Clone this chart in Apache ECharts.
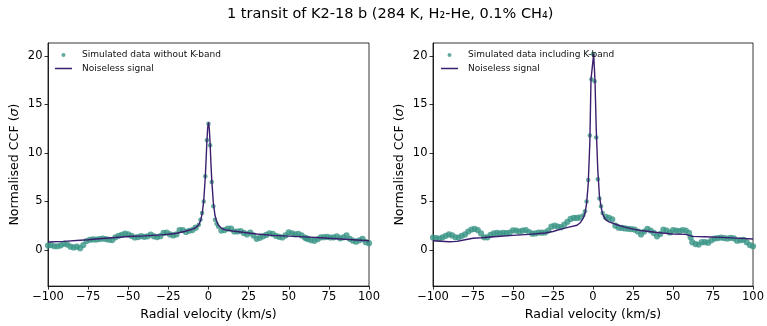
<!DOCTYPE html>
<html>
<head>
<meta charset="utf-8">
<script src="https://cdn.jsdelivr.net/npm/echarts@6/dist/echarts.min.js"></script>
<style>
html,body{margin:0;padding:0;background:#fff;}
#chart{width:767px;height:326px;}
</style>
</head>
<body>
<div id="chart"></div>
<script>
// ---- Data ----
const titleText = '1 transit of K2-18 b (284 K, H\u2082-He, 0.1% CH\u2084)';
const xTicks = [-100, -75, -50, -25, 0, 25, 50, 75, 100];
const yTicks = [0, 5, 10, 15, 20];

// velocities of the simulated data points (km/s)
const vData = [
  -100,-98,-96,-94,-92,-90,-88,-86,-84,-82,-80,-78,-76,-74,-72,-70,-68,-66,-64,-62,
  -60,-58,-56,-54,-52,-50,-48,-46,-44,-42,-40,-38,-36,-34,-32,-30,-28,-26,-24,-22,
  -20,-18,-16,-14,-12,-10,-8,
  -6,-5,-4,-3,-2,-1,0,1,2,3,4,5,6,
  8,10,12,14,16,18,20,22,24,26,28,30,32,34,36,38,40,42,44,46,48,50,52,54,56,58,60,61,62,
  64,66,68,70,72,74,76,78,80,82,84,86,88,90,92,94,96,98,100
];

// left panel: simulated data without K-band
const dataNoK = [
  0.45,0.5,0.38,0.38,0.48,0.65,0.55,0.34,0.26,0.34,0.18,0.5,0.92,1.05,1.08,1.07,1.12,1.17,1.12,1.05,
  1.02,1.3,1.45,1.55,1.68,1.6,1.45,1.28,1.33,1.42,1.35,1.4,1.58,1.4,1.33,1.42,1.75,1.8,1.6,1.5,
  1.6,2.05,2.05,1.85,1.98,2.05,2.3,
  2.6,3.1,3.8,5.0,7.6,11.3,13.0,10.8,7.0,4.5,3.1,2.7,2.4,
  2.0,2.05,2.2,2.2,1.9,1.9,1.95,1.75,1.6,1.8,1.5,1.15,1.25,1.4,1.55,1.72,1.65,1.45,1.35,1.28,1.5,1.82,1.7,1.6,1.65,1.5,1.27,1.2,1.12,
  1.0,0.94,1.1,1.3,1.32,1.34,1.28,1.3,1.4,1.2,1.3,1.5,1.15,0.95,0.85,1.0,1.15,0.8,0.7
];

// right panel: simulated data including K-band
const dataWithK = [
  1.27,1.22,1.17,1.3,1.45,1.6,1.5,1.3,1.28,1.45,1.6,1.9,2.1,2.17,2.05,1.7,1.3,1.3,1.55,1.7,
  1.75,1.72,1.75,1.73,1.8,2.02,2.0,1.88,2.0,2.05,1.85,1.68,1.7,1.8,1.78,1.8,2.0,2.4,2.5,2.4,
  2.35,2.6,2.9,3.2,3.3,3.3,3.35,
  3.6,4.0,5.0,7.2,11.8,17.6,20.2,17.4,11.6,7.3,5.3,4.5,3.8,
  3.4,3.3,3.15,2.5,2.3,2.27,2.22,2.18,2.15,2.1,1.9,1.6,1.9,2.17,2.0,1.75,1.4,1.65,2.1,2.0,1.8,2.05,2.0,1.95,2.05,2.0,1.75,1.3,0.8,
  0.6,0.55,0.8,0.8,0.75,1.0,1.17,1.22,1.27,1.22,1.17,1.25,1.2,0.95,1.0,1.05,0.8,0.5,0.38
];

// noiseless model signals
const vModelNoK = [-100,-90,-80,-75,-70,-60,-50,-40,-30,-25,-20,-15,-10,-8,-6,-5,-4,-3,-2,-1.5,-1,-0.5,0,0.5,1,1.5,2,3,4,5,6,8,10,15,20,25,30,40,50,60,70,75,80,90,100];
const modelNoK  = [0.82,0.88,1.0,1.05,1.12,1.25,1.38,1.45,1.55,1.62,1.72,1.9,2.15,2.3,2.6,3.0,3.7,5.0,7.5,9.3,11.2,12.6,13.15,12.5,11.0,9.0,7.3,4.9,3.6,3.0,2.6,2.25,2.1,1.95,1.85,1.75,1.65,1.5,1.42,1.35,1.25,1.2,1.15,1.05,0.95];

const vModelWithK = [-100,-90,-85,-80,-75,-70,-60,-50,-40,-30,-25,-20,-15,-10,-8,-6,-5,-4,-3,-2,-1.25,0.4,1.25,2,3,4,5,6,8,10,15,20,25,30,40,50,58,62,70,80,90,100];
const modelWithK  = [0.95,0.85,0.88,1.05,1.2,1.25,1.38,1.5,1.6,1.75,1.9,2.15,2.35,2.55,2.8,3.3,3.8,4.8,6.8,11.0,17.6,20.2,17.4,12.6,8.2,5.6,4.5,3.7,3.1,2.9,2.6,2.35,2.15,2.0,1.8,1.65,1.6,1.4,1.36,1.3,1.22,1.12];

const legendNoK = ['Simulated data without K-band', 'Noiseless signal'];
const legendWithK = ['Simulated data including K-band', 'Noiseless signal'];

// ---- Chart ----
const FONT = 'DejaVu Sans';
const scatterColor = '#3a9586';
const lineColor = '#3b1e6e';
const pairs = (xs, ys) => xs.map((x, i) => [x, ys[i]]);
const dotSize = v => (Math.abs(v[0]) < 7 ? 4.5 : 6.2);

function xAxisDef(gi) {
  return {
    gridIndex: gi, type: 'value', min: -100, max: 100, interval: 25,
    name: 'Radial velocity (km/s)', nameLocation: 'middle', nameGap: 17,
    nameTextStyle: {fontFamily: FONT, fontSize: 12.6, color: '#000'},
    axisLine: {show: true, onZero: false, lineStyle: {color: '#000', width: 0.8}},
    axisTick: {show: true, inside: false, length: 3.5, lineStyle: {color: '#000', width: 0.8}},
    axisLabel: {margin: 5, fontFamily: FONT, fontSize: 11.5, color: '#000',
      formatter: v => String(v).replace('-', '\u2212')},
    splitLine: {show: false}
  };
}
function yAxisDef(gi) {
  return {
    gridIndex: gi, type: 'value', min: -3.73, max: 21.34,
    name: 'Normalised CCF ({i|σ})', nameLocation: 'middle', nameGap: 27, nameRotate: 90,
    nameTextStyle: {fontFamily: FONT, fontSize: 12.6, color: '#000',
      rich: {i: {fontFamily: FONT, fontSize: 12.6, fontStyle: 'italic', color: '#000'}}},
    axisLine: {show: true, onZero: false, lineStyle: {color: '#000', width: 0.8}},
    axisTick: {show: true, inside: false, length: 3.5, customValues: yTicks, lineStyle: {color: '#000', width: 0.8}},
    axisLabel: {margin: 5.5, fontFamily: FONT, fontSize: 11.5, color: '#000', customValues: yTicks},
    splitLine: {show: false}
  };
}
function legendDef(left, names) {
  return {
    orient: 'vertical', left: left, top: 49.5, padding: 0, itemGap: 2.5,
    itemWidth: 17, itemHeight: 4,
    textStyle: {fontFamily: FONT, fontSize: 9, color: '#111', lineHeight: 11, padding: [0, 0, 0, 5]},
    data: [
      {name: names[0], icon: 'circle'},
      {name: names[1], icon: 'path://M0,0L34,0L34,3L0,3Z'}
    ]
  };
}

const option = {
  animation: false,
  backgroundColor: '#fff',
  title: {
    text: titleText, left: 227, top: 7, padding: 0,
    textStyle: {fontFamily: FONT, fontSize: 14.5, fontWeight: 'normal', color: '#000'}
  },
  legend: [legendDef(55, legendNoK), legendDef(441, legendWithK)],
  grid: [
    {left: 48, top: 43, width: 321, height: 251, show: true, borderColor: '#000', borderWidth: 0.8, containLabel: false},
    {left: 433, top: 43, width: 321, height: 251, show: true, borderColor: '#000', borderWidth: 0.8, containLabel: false}
  ],
  xAxis: [xAxisDef(0), xAxisDef(1)],
  yAxis: [yAxisDef(0), yAxisDef(1)],
  series: [
    {name: legendNoK[0], type: 'scatter', xAxisIndex: 0, yAxisIndex: 0,
      data: pairs(vData, dataNoK), symbolSize: dotSize, itemStyle: {color: scatterColor}, z: 2},
    {name: legendNoK[1], type: 'line', xAxisIndex: 0, yAxisIndex: 0,
      data: pairs(vModelNoK, modelNoK), symbol: 'none', showSymbol: false, smooth: false,
      lineStyle: {color: lineColor, width: 1.4}, itemStyle: {color: lineColor}, z: 3},
    {name: legendWithK[0], type: 'scatter', xAxisIndex: 1, yAxisIndex: 1,
      data: pairs(vData, dataWithK), symbolSize: dotSize, itemStyle: {color: scatterColor}, z: 2},
    {name: legendWithK[1], type: 'line', xAxisIndex: 1, yAxisIndex: 1,
      data: pairs(vModelWithK, modelWithK), symbol: 'none', showSymbol: false, smooth: false,
      lineStyle: {color: lineColor, width: 1.4}, itemStyle: {color: lineColor}, z: 3}
  ]
};

const chart = echarts.init(document.getElementById('chart'), null, {renderer: 'canvas'});
chart.setOption(option);
</script>
</body>
</html>
